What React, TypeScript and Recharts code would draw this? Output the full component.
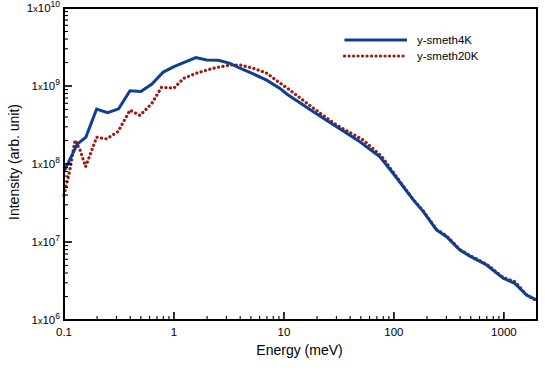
import React from 'react';
import { LineChart, Line, XAxis, YAxis, ReferenceArea } from 'recharts';

const energy4K = [0.1, 0.132, 0.158, 0.198, 0.249, 0.314, 0.398, 0.5, 0.63, 0.8, 1.0, 1.58, 1.98, 2.53, 3.23, 3.98, 5.26, 6.96, 9.2, 10.6, 18.5, 30.1, 49.1, 74.6, 99, 150, 185, 244, 301, 398, 491, 696, 986, 1259, 1607, 2000];
const intensity4K = [8e7, 1.8e8, 2.2e8, 5.07e8, 4.55e8, 5.1e8, 8.7e8, 8.5e8, 1.06e9, 1.51e9, 1.77e9, 2.31e9, 2.15e9, 2.14e9, 1.95e9, 1.69e9, 1.43e9, 1.19e9, 9.3e8, 7.9e8, 4.69e8, 3.0e8, 1.93e8, 1.24e8, 7.5e7, 3.47e7, 2.45e7, 1.43e7, 1.17e7, 7.9e6, 6.6e6, 5.07e6, 3.43e6, 2.95e6, 2.09e6, 1.8e6];

const energy20K = [0.1, 0.113, 0.126, 0.14, 0.157, 0.198, 0.244, 0.31, 0.398, 0.49, 0.63, 0.77, 1.0, 1.22, 1.6, 2.28, 3.23, 3.98, 5.26, 6.96, 8.9, 11.3, 18.5, 30.1, 52.6, 77.9, 95, 150, 185, 244, 301, 398, 491, 696, 986, 1259, 1607, 2000];
const intensity20K = [4e7, 8.3e7, 2.03e8, 1.51e8, 9.2e7, 2.2e8, 2.1e8, 2.6e8, 4.9e8, 4.2e8, 6.0e8, 9.6e8, 9.4e8, 1.25e9, 1.46e9, 1.69e9, 1.86e9, 1.86e9, 1.69e9, 1.46e9, 1.13e9, 8.9e8, 5.2e8, 3.16e8, 2.03e8, 1.24e8, 8.4e7, 3.5e7, 2.5e7, 1.45e7, 1.2e7, 8.0e6, 6.7e6, 5.2e6, 3.5e6, 3.1e6, 2.1e6, 1.75e6];

const seriesNames = ['y-smeth4K', 'y-smeth20K'];

const xDomain = [0.1, 2000];
const yDomain = [1e6, 1e10];
const xDecades = [0.1, 1, 10, 100, 1000];
const yDecades = [1e6, 1e7, 1e8, 1e9, 1e10];

const FONT = 'Liberation Sans, Arial, Helvetica, sans-serif';
const BLUE = '#0d3f94';
const RED = '#9a1c12';

// plot box inside the 545x385 chart
const W = 545;
const H = 385;
const LEFT = 64;
const RIGHT = 8;
const TOP = 8;
const BOTTOM = 65;

// decade ticks plus 2..9 minor ticks, clipped to the domain
const minorTicks = (decades: number[], max: number) => {
  const out: number[] = [];
  decades.forEach((d) => {
    for (let m = 1; m < 10; m++) {
      const v = +(d * m).toPrecision(6);
      if (v <= max) out.push(v);
    }
  });
  return out;
};
const xTicks = minorTicks(xDecades, xDomain[1]);
const yTicks = minorTicks(yDecades, yDomain[1]);

const isMajor = (v: number) => Math.abs(Math.log10(v) - Math.round(Math.log10(v))) < 1e-6;

const data4K = energy4K.map((x, i) => ({ x, y: intensity4K[i] }));
const data20K = energy20K.map((x, i) => ({ x, y: intensity20K[i] }));

const tickW = (major: boolean) => (major ? 1.6 : 1.1);
const tickL = (major: boolean) => (major ? 8 : 4);

function BottomTick({ x, y, payload }: any) {
  const major = isMajor(payload.value);
  const w = tickW(major);
  const l = tickL(major);
  return (
    <g>
      <rect x={x - w / 2} y={y - l} width={w} height={l} fill="#000" />
      {major && (
        <text x={x} y={y + 16} textAnchor="middle" fontSize={11.5} fontFamily={FONT} fill="#000">
          {String(payload.value)}
        </text>
      )}
    </g>
  );
}

function TopTick({ x, y, payload }: any) {
  const major = isMajor(payload.value);
  const w = tickW(major);
  return <rect x={x - w / 2} y={y} width={w} height={tickL(major)} fill="#000" />;
}

function LeftTick({ x, y, payload }: any) {
  const major = isMajor(payload.value);
  const exp = Math.round(Math.log10(payload.value));
  const w = tickW(major);
  return (
    <g>
      <rect x={x} y={y - w / 2} width={tickL(major)} height={w} fill="#000" />
      {major && (
        <text x={x - 4} y={y + 4} textAnchor="end" fontSize={11.5} fontFamily={FONT} fill="#000">
          1<tspan fontSize={9}>x</tspan>10<tspan fontSize={8.5} dy={-5}>{exp}</tspan>
        </text>
      )}
    </g>
  );
}

function RightTick({ x, y, payload }: any) {
  const major = isMajor(payload.value);
  const w = tickW(major);
  const l = tickL(major);
  return <rect x={x - l} y={y - w / 2} width={l} height={w} fill="#000" />;
}

const axisLine = { stroke: '#000', strokeWidth: 1.8 };

export default function App() {
  return (
    <div style={{ position: 'absolute', left: 0, top: 0, width: W, height: H }}>
      <LineChart width={W} height={H} margin={{ top: 0, right: 0, bottom: 0, left: 0 }}>
        <XAxis
          xAxisId="b"
          type="number"
          dataKey="x"
          scale="log"
          domain={xDomain}
          ticks={xTicks}
          interval={0}
          height={BOTTOM}
          tickSize={0}
          tickMargin={0}
          axisLine={axisLine}
          tick={<BottomTick />}
          label={{
            content: ({ viewBox }: any) => (
              <text x={viewBox.x + viewBox.width / 2 - 1} y={viewBox.y + 35} textAnchor="middle" fontSize={14} fontFamily={FONT} fill="#000">
                Energy (meV)
              </text>
            ),
          }}
        />
        <XAxis
          xAxisId="t"
          orientation="top"
          type="number"
          dataKey="x"
          scale="log"
          domain={xDomain}
          ticks={xTicks}
          interval={0}
          height={TOP}
          tickSize={0}
          tickMargin={0}
          axisLine={axisLine}
          tick={<TopTick />}
        />
        <YAxis
          yAxisId="l"
          type="number"
          dataKey="y"
          scale="log"
          domain={yDomain}
          ticks={yTicks}
          interval={0}
          width={LEFT}
          tickSize={0}
          tickMargin={0}
          axisLine={axisLine}
          tick={<LeftTick />}
          label={{
            content: ({ viewBox }: any) => {
              const cy = viewBox.y + viewBox.height / 2 - 2;
              return (
                <text x={19} y={cy} transform={`rotate(-90, 19, ${cy})`} textAnchor="middle" fontSize={14} fontFamily={FONT} fill="#000">
                  Intensity (arb. unit)
                </text>
              );
            },
          }}
        />
        <YAxis
          yAxisId="r"
          orientation="right"
          type="number"
          dataKey="y"
          scale="log"
          domain={yDomain}
          ticks={yTicks}
          interval={0}
          width={RIGHT}
          tickSize={0}
          tickMargin={0}
          axisLine={axisLine}
          tick={<RightTick />}
        />
        <ReferenceArea
          xAxisId="b"
          yAxisId="l"
          x1={xDomain[0]}
          x2={xDomain[1]}
          y1={yDomain[0]}
          y2={yDomain[1]}
          fill="none"
          fillOpacity={0}
          stroke="#000"
          strokeWidth={1.8}
          ifOverflow="visible"
        />
        <Line
          xAxisId="b"
          yAxisId="l"
          data={data20K}
          dataKey="y"
          name={seriesNames[1]}
          stroke={RED}
          strokeWidth={3.2}
          strokeDasharray="0.1 4.4"
          strokeLinecap="round"
          dot={false}
          isAnimationActive={false}
        />
        <Line
          xAxisId="b"
          yAxisId="l"
          data={data4K}
          dataKey="y"
          name={seriesNames[0]}
          stroke={BLUE}
          strokeWidth={3}
          dot={false}
          isAnimationActive={false}
        />
      </LineChart>
      {/* plot frame, drawn over the chart box */}
      <svg width={W} height={H} style={{ position: 'absolute', left: 0, top: 0, pointerEvents: 'none' }}>
        <rect x={LEFT} y={TOP} width={W - LEFT - RIGHT} height={H - TOP - BOTTOM} fill="none" stroke="#000" strokeWidth={1.8} />
      </svg>
      <div style={{ position: 'absolute', left: 343, top: 32, fontFamily: FONT, fontSize: 11.5, lineHeight: '16px' }}>
        {seriesNames.map((name, i) => (
          <div key={name} style={{ display: 'flex', alignItems: 'center', height: 16 }}>
            <svg width={74} height={16}>
              <line
                x1={1.5}
                x2={64}
                y1={8}
                y2={8}
                stroke={i === 0 ? BLUE : RED}
                strokeWidth={i === 0 ? 3 : 3.2}
                strokeDasharray={i === 0 ? undefined : '0.1 4.4'}
                strokeLinecap={i === 0 ? 'butt' : 'round'}
              />
            </svg>
            <span>{name}</span>
          </div>
        ))}
      </div>
    </div>
  );
}
